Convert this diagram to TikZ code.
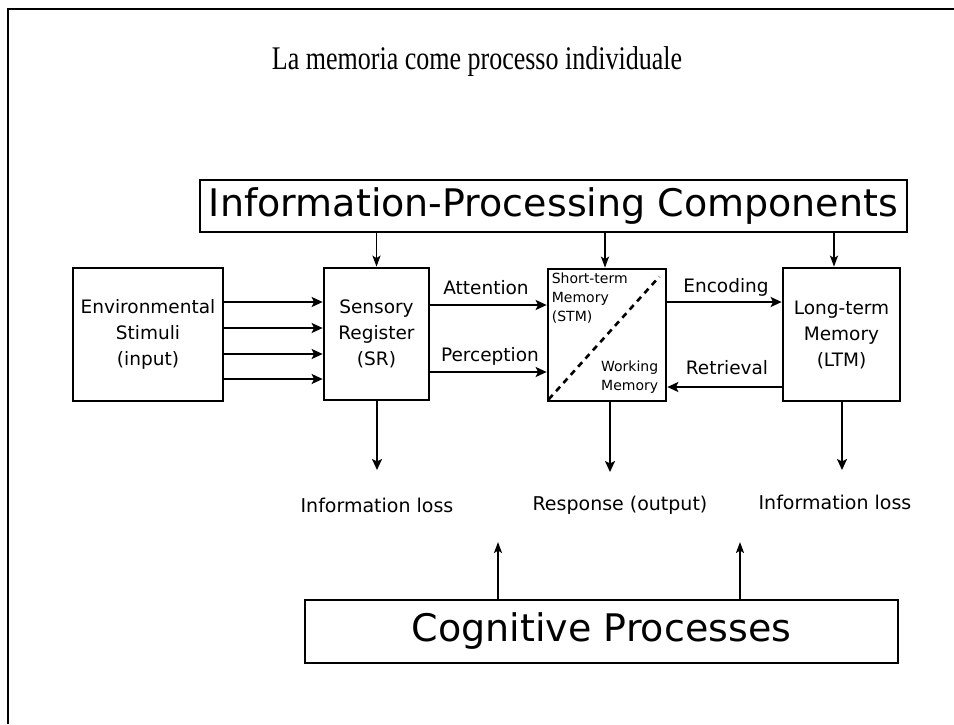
\documentclass[tikz,border=0pt]{standalone}
\usepackage{graphicx}
\usepackage{fontspec}
\setmainfont{Liberation Serif}
\newfontfamily\dvs{DejaVu Sans}
\usetikzlibrary{arrows.meta}
\newcommand\fbig{\dvs\fontsize{38}{44}\selectfont}
\newcommand\fmid{\dvs\fontsize{18.5}{26}\selectfont}
\newcommand\flbl{\dvs\fontsize{19}{24}\selectfont}
\newcommand\fsml{\dvs\fontsize{14}{19}\selectfont}
\begin{document}
\begin{tikzpicture}[x=1pt,y=-1pt,
  box/.style={draw, line width=2.7pt, inner sep=0pt, align=center},
  arr/.style={line width=2.4pt, -{Stealth[length=11pt,width=10pt,inset=2.5pt]}},
  arrt/.style={line width=1.9pt, -{Stealth[length=11pt,width=8pt,inset=2.5pt]}},
  lbl/.style={font=\flbl, inner sep=0pt},
  mid/.style={font=\fmid, inner sep=0pt}]
\useasboundingbox (0,0) rectangle (954,724);
% page frame
\draw[line width=2.8pt] (8,724) -- (8,9) -- (954,9);

% title
\node[anchor=base, inner sep=0pt] (title) at (477,69)
  {\resizebox{410pt}{\height}{\fontsize{33}{38}\selectfont La memoria come processo individuale}};

% main boxes
\node[box, line width=2.4pt, minimum width=707pt, minimum height=52pt, font=\fbig] (ipc) at (553.5,206) {Information-Processing Components};
\node[box, minimum width=150pt, minimum height=133pt, font=\fmid] (env) at (148,334.5) {Environmental\\Stimuli\\(input)};
\node[box, minimum width=105pt, minimum height=132pt, font=\fmid] (sr) at (376.5,334) {Sensory\\Register\\(SR)};
\node[box, minimum width=118pt, minimum height=132pt] (stm) at (607,335) {};
\node[box, minimum width=117pt, minimum height=133pt, font=\fmid] (ltm) at (841.5,334.5) {Long-term\\Memory\\(LTM)};
\node[box, minimum width=593pt, minimum height=63pt, font=\fbig] (cog) at (601.5,631.5) {Cognitive Processes};

% short-term / working memory split
\draw[line width=2.6pt, dash pattern=on 6pt off 5pt] ([shift={(2,-3)}]stm.south west) -- ([shift={(-8,9)}]stm.north east);
\node[anchor=north west, align=left, font=\fsml, inner sep=0pt] (stmtxt) at ([shift={(5,5)}]stm.north west) {Short-term\\Memory\\(STM)};
\node[anchor=south east, align=right, font=\fsml, inner sep=0pt] (wmtxt) at ([shift={(-9,-9)}]stm.south east) {Working\\Memory};

% stimuli into the sensory register
\foreach \yy in {302,328,354,379}
  \draw[arr] (env.east |- 0,\yy) -- (sr.west |- 0,\yy);

% flows between stores
\draw[arr] (sr.east |- 0,305) -- (stm.west |- 0,305);
\draw[arr] (sr.east |- 0,372) -- (stm.west |- 0,372);
\draw[arr] (stm.east |- 0,302) -- (ltm.west |- 0,302);
\draw[arr] (ltm.west |- 0,387) -- (stm.east |- 0,387);
\node[mid] (att) at (486,288) {Attention};
\node[mid] (perc) at (490,356) {Perception};
\node[mid] (enc) at (726,287) {Encoding};
\node[mid] (ret) at (727,368) {Retrieval};

% components feeding each store
\draw[arrt] (ipc.south -| sr.north) -- (sr.north);
\draw[arrt] (ipc.south -| 605,0) -- (stm.north -| 605,0);
\draw[arrt] (ipc.south -| 834,0) -- (ltm.north -| 834,0);

% outputs
\coordinate (d1) at (377,470);
\coordinate (d2) at (610,472);
\coordinate (d3) at (842,470);
\draw[arr] (sr.south -| d1) -- (d1);
\draw[arr] (stm.south -| d2) -- (d2);
\draw[arr] (ltm.south -| d3) -- (d3);
\node[lbl] (loss1) at (377,505) {Information loss};
\node[lbl] (resp) at (620,505) {Response (output)};
\node[lbl] (loss2) at (835,502) {Information loss};

% cognitive processes acting upward
\coordinate (u1) at (498,542);
\coordinate (u2) at (740,542);
\draw[arrt] (cog.north -| u1) -- (u1);
\draw[arrt] (cog.north -| u2) -- (u2);
\end{tikzpicture}
\end{document}
